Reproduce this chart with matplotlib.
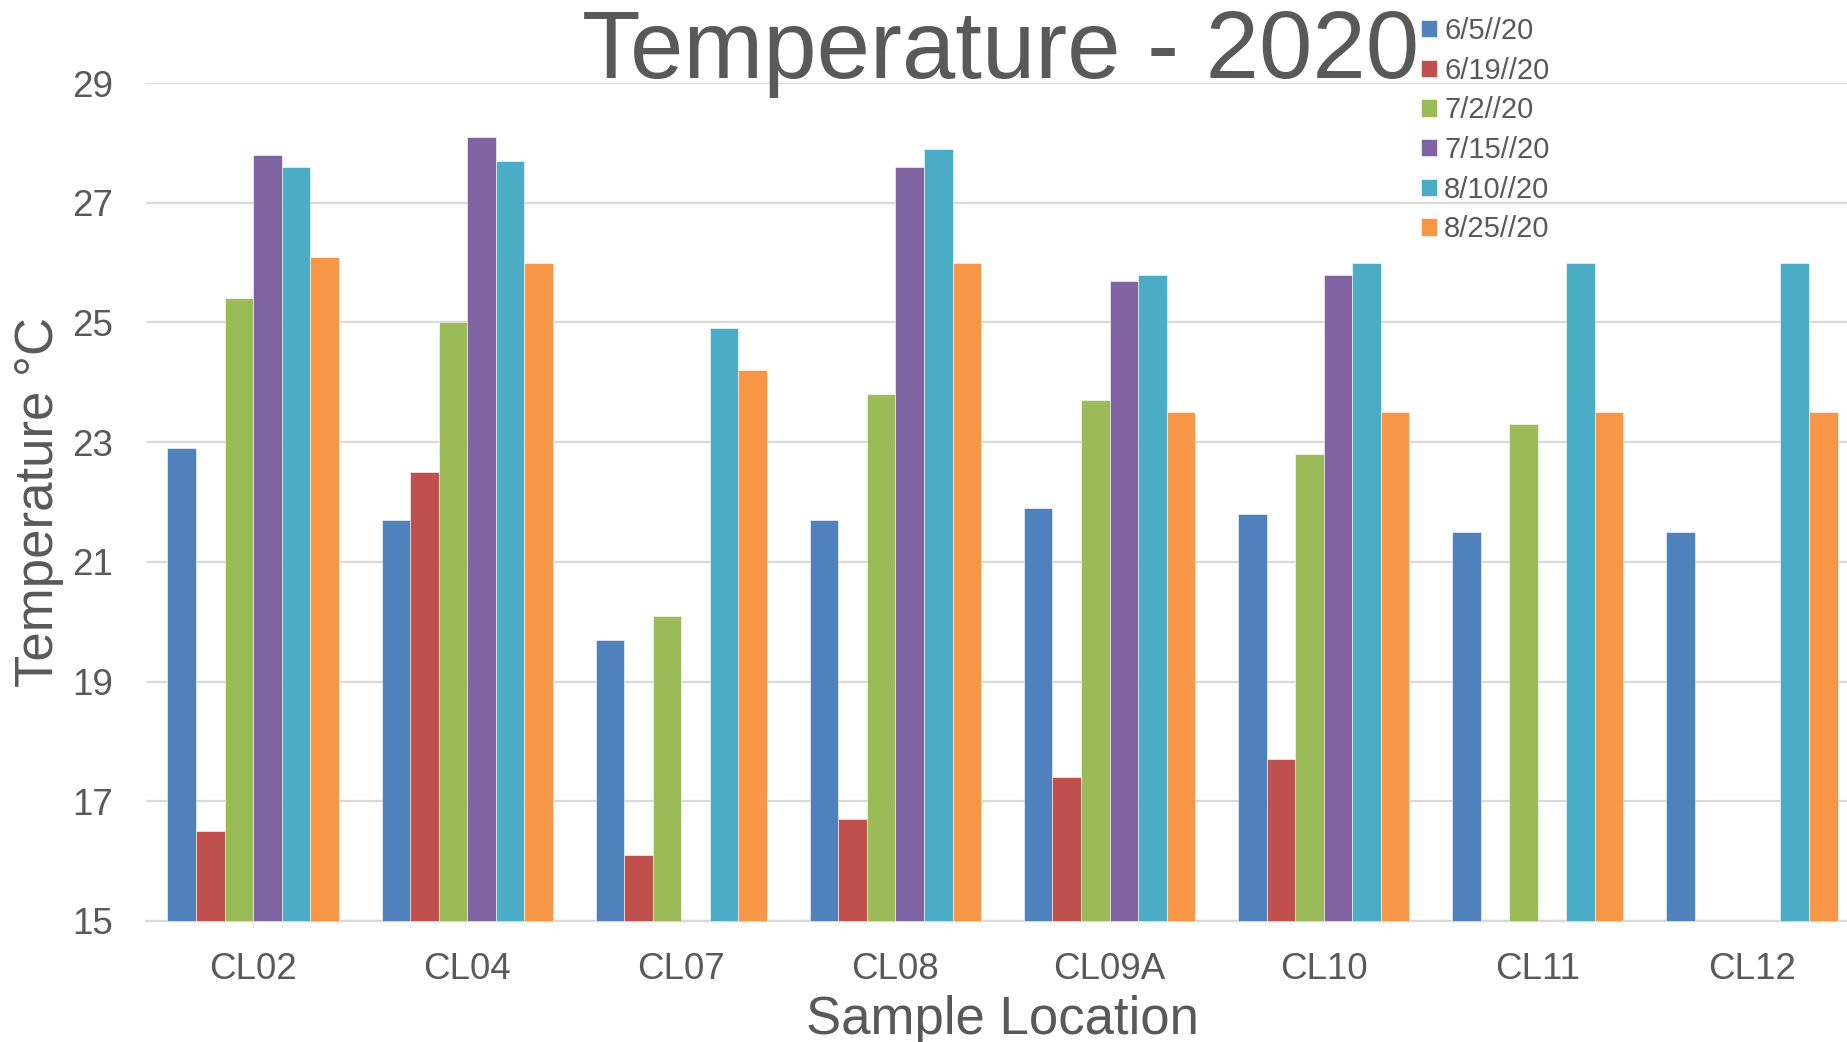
import matplotlib
matplotlib.use("Agg")
import matplotlib.pyplot as plt
import numpy as np

plt.rcParams['font.family'] = ['Liberation Sans', 'DejaVu Sans']

# Sample locations and temperature readings (deg C) per sampling date
locations = ["CL02", "CL04", "CL07", "CL08", "CL09A", "CL10", "CL11", "CL12"]
dates = ["6/5//20", "6/19//20", "7/2//20", "7/15//20", "8/10//20", "8/25//20"]

t_0605 = [22.9, 21.7, 19.7, 21.7, 21.9, 21.8, 21.5, 21.5]
t_0619 = [16.5, 22.5, 16.1, 16.7, 17.4, 17.7, None, None]
t_0702 = [25.4, 25.0, 20.1, 23.8, 23.7, 22.8, 23.3, None]
t_0715 = [27.8, 28.1, None, 27.6, 25.7, 25.8, None, None]
t_0810 = [27.6, 27.7, 24.9, 27.9, 25.8, 26.0, 26.0, 26.0]
t_0825 = [26.1, 26.0, 24.2, 26.0, 23.5, 23.5, 23.5, 23.5]

series = [t_0605, t_0619, t_0702, t_0715, t_0810, t_0825]
colors = ["#4F81BD", "#C0504D", "#9BBB59", "#8064A2", "#4BACC6", "#F79646"]

text_color = "#595959"
grid_color = "#D9D9D9"

W, H = 1847, 1042
fig = plt.figure(figsize=(W / 100, H / 100), dpi=100)
ax = fig.add_axes([146 / W, 1 - 921 / H, 1713 / W, 838 / H])

x = np.arange(len(locations))
n = len(series)
width = 0.8 / n
for j, (vals, c) in enumerate(zip(series, colors)):
    vals = np.array([np.nan if v is None else v for v in vals], dtype=float)
    ax.bar(x + (j - (n - 1) / 2) * width, vals, width=width, bottom=0,
           color=c, edgecolor="white", linewidth=0.4, label=dates[j], zorder=3)

ax.set_ylim(15, 29)
ax.set_xlim(-0.5, len(locations) - 0.5)
ax.set_yticks(np.arange(15, 30, 2))
ax.set_xticks(x)
ax.set_xticklabels(locations)

ax.grid(axis="y", color=grid_color, linewidth=1.6, zorder=0)
ax.set_axisbelow(True)
for side in ["top", "right", "left"]:
    ax.spines[side].set_visible(False)
ax.spines["bottom"].set_color(grid_color)
ax.spines["bottom"].set_linewidth(1.6)

ax.tick_params(axis="both", length=0, labelsize=26.5, labelcolor=text_color)
ax.tick_params(axis="y", pad=24)
ax.tick_params(axis="x", pad=22)

ax.set_xlabel("Sample Location", fontsize=38, color=text_color)
ax.xaxis.label.set_va("center")
ax.xaxis.set_label_coords(0.5, -0.118)
ax.set_ylabel("Temperature °C", fontsize=38, color=text_color)
ax.yaxis.label.set_va("center")
ax.yaxis.set_label_coords(-0.0625, 0.5)

fig.text(1001 / W, 1 - 78 / H, "Temperature - 2020", fontsize=69,
         color=text_color, ha="center", va="baseline")

leg = fig.legend(loc="upper left", bbox_to_anchor=(1421 / W, 1 - 17 / H),
                 frameon=False, fontsize=21, handlelength=0.54,
                 handleheight=0.54, handletextpad=0.25, labelspacing=0.40,
                 borderpad=0, borderaxespad=0)
for t in leg.get_texts():
    t.set_color(text_color)

fig.savefig("out.png", dpi=100)
